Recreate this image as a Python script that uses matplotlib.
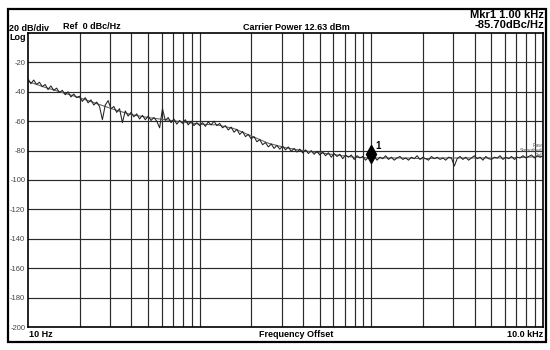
import matplotlib.pyplot as plt
import matplotlib.transforms as mtransforms
from matplotlib.patches import Rectangle
import numpy as np

plt.rcParams['font.family'] = ['Liberation Sans', 'DejaVu Sans']

# sweep: 60 points per decade, 10 Hz .. 10 kHz
raw_db = [
    # 10 Hz - 100 Hz
    -31.0, -34.5, -32.0, -35.0, -33.5, -36.5,
    -35.0, -38.5, -36.0, -39.0, -37.5, -40.5,
    -39.0, -42.0, -40.0, -43.5, -41.5, -44.0,
    -43.0, -46.5, -44.0, -47.5, -45.5, -49.0,
    -47.0, -50.0, -59.0, -49.0, -46.0, -51.5,
    -50.0, -54.0, -51.5, -61.0, -53.0, -56.5,
    -54.0, -57.0, -55.0, -58.5, -56.0, -59.0,
    -56.5, -59.5, -57.5, -60.0, -64.5, -51.5,
    -59.5, -57.5, -61.0, -58.5, -62.0, -59.5,
    -61.5, -59.0, -62.5, -60.0, -63.0, -61.0,
    # 100 Hz - 1 kHz
    -63.0, -61.0, -63.5, -60.5, -62.5, -60.0,
    -63.0, -61.5, -64.5, -63.0, -66.0, -64.0,
    -67.5, -65.5, -69.0, -67.0, -70.5, -69.0,
    -72.0, -70.5, -74.0, -72.5, -76.0, -74.5,
    -77.5, -75.5, -78.5, -76.5, -79.0, -77.0,
    -79.5, -77.5, -80.5, -78.5, -81.0, -79.0,
    -81.5, -79.5, -82.0, -80.0, -82.5, -80.5,
    -83.0, -81.0, -83.5, -81.5, -84.5, -82.0,
    -84.0, -82.5, -85.5, -83.0, -84.5, -83.0,
    -86.0, -83.5, -85.0, -84.0, -86.5, -84.5,
    # 1 kHz - 10 kHz
    -85.7, -84.0, -86.5, -84.5, -85.5, -83.5,
    -86.0, -84.5, -86.5, -85.0, -84.0, -86.0,
    -85.0, -86.5, -84.5, -85.5, -83.5, -86.0,
    -84.5, -85.5, -86.5, -84.0, -85.5, -84.5,
    -86.0, -85.0, -86.5, -84.5, -85.0, -90.5,
    -85.5, -84.0, -86.0, -84.5, -86.5, -85.0,
    -83.5, -85.5, -84.5, -86.5, -84.0, -85.5,
    -86.0, -84.5, -85.0, -83.5, -86.0, -84.5,
    -85.5, -84.0, -86.0, -84.5, -85.0, -83.5,
    -85.0, -84.0, -83.0, -85.0, -83.5, -84.5,
    -83.5,
]
raw_freq = np.logspace(1, 4, len(raw_db))

smooth_db = [
    -33, -37, -40.5, -44, -48, -52, -55.5, -57.5, -59, -60.5,
    -62, -62.5, -65, -70, -75, -78, -80, -81.5, -83, -84.5,
    -85, -85, -85, -85.5, -85, -85, -85, -85, -85, -84.5, -84,
]
smooth_freq = np.logspace(1, 4, len(smooth_db))

y_ticks = [-20, -40, -60, -80, -100, -120, -140, -160, -180, -200]
mkr_freq = 1000
mkr_level = -85.70

fig = plt.figure(figsize=(5.5, 3.5), dpi=100)
fig.patches.append(Rectangle((8 / 550, 8 / 350), 538 / 550, 333 / 350,
                             transform=fig.transFigure, fill=False,
                             edgecolor='black', linewidth=1.6))

ax = fig.add_axes([28 / 550, 23 / 350, 515 / 550, 294 / 350])
ax.set_xscale('log')
ax.set_xlim(10, 10000)
ax.set_ylim(-200, 0)

# grid
for dec in [10, 100, 1000]:
    for k in range(2, 11):
        ax.axvline(dec * k, color='#2a2a2a', linewidth=0.85, zorder=1)
for v in y_ticks:
    ax.axhline(v, color='#2a2a2a', linewidth=0.85, zorder=1)

ax.plot(smooth_freq, smooth_db, color='#666666', linewidth=0.8, zorder=2)
ax.plot(raw_freq, raw_db, color='#222222', linewidth=0.75, zorder=3)

# marker
trans = mtransforms.offset_copy(ax.transData, fig=fig, x=0, y=3.5, units='points')
ax.plot([mkr_freq], [mkr_level], marker='d', markersize=9, color='black',
        transform=trans, zorder=4)
ax.text(mkr_freq * 1.05, mkr_level + 7, '1', fontsize=7, fontweight='bold', zorder=4)

ax.set_xticks([])
ax.set_yticks(y_ticks)
ax.set_yticklabels([str(v) for v in y_ticks], fontsize=5.5, color='#444444')
ax.tick_params(axis='y', length=0, pad=2)
ax.minorticks_off()
for s in ax.spines.values():
    s.set_linewidth(1.2)

ax.text(0.998, 0.6, 'Raw\nSmoothed\nRef', transform=ax.transAxes, fontsize=3.5,
        color='#555555', ha='right', va='center', linespacing=1.0)

# header / footer texts (figure pixel coords)
def ftext(x, y, s, **kw):
    fig.text(x / 550, 1 - y / 350, s, **kw)

ftext(9, 31, '20 dB/div', fontsize=6.5, fontweight='bold', va='baseline')
ftext(9, 40, 'Log', fontsize=6.5, fontweight='bold', va='baseline')
ftext(63, 29, 'Ref  0 dBc/Hz', fontsize=6.5, fontweight='bold', va='baseline')
ftext(296, 30, 'Carrier Power 12.63 dBm', fontsize=6.5, fontweight='bold',
      va='baseline', ha='center')
ftext(544, 18.5, 'Mkr1 1.00 kHz', fontsize=8, fontweight='bold', va='baseline', ha='right')
ftext(544, 28.5, '-85.70dBc/Hz', fontsize=8, fontweight='bold', va='baseline', ha='right')
ftext(29, 337, '10 Hz', fontsize=6.5, fontweight='bold', va='baseline')
ftext(296, 337, 'Frequency Offset', fontsize=6.5, fontweight='bold',
      va='baseline', ha='center')
ftext(543, 337, '10.0 kHz', fontsize=6.5, fontweight='bold', va='baseline', ha='right')

fig.savefig('out.png', dpi=100, facecolor='white')
